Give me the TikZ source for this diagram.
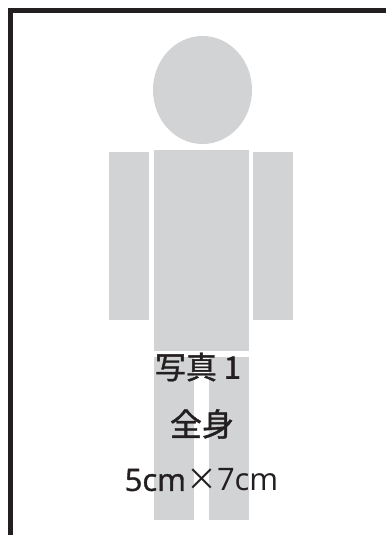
\documentclass[tikz,border=0pt]{standalone}
\usepackage{fontspec}
\setmainfont{Open Sans}
\newfontfamily\cjk{Noto Sans CJK JP}
\newfontfamily\cjkheavy[FakeBold=1.2]{Noto Sans CJK JP}
\newfontfamily\numheavy[FakeBold=1.2]{Open Sans}
\definecolor{bodygray}{RGB}{209,211,212}
\definecolor{framedark}{RGB}{35,31,32}
\begin{document}
\begin{tikzpicture}[x=1pt,y=-1pt]

    \tikzset{
      bodypart/.style={
        fill=bodygray,
        draw=none,
      },
      caption/.style={
        color=framedark,
        anchor=center,
        inner sep=0pt,
      },
    }
    \useasboundingbox (0,0) rectangle (386,535);
	\fill[bodypart] (202.5,90) ellipse (49.5 and 54);
	\fill[bodypart] (154,150) rectangle (249,351);
	\fill[bodypart] (109,152) rectangle (149,320);
	\fill[bodypart] (253,152) rectangle (293,320);
	\fill[bodypart] (154,357) rectangle (194,520);
	\fill[bodypart] (209,357) rectangle (249,520);
	\draw[color=framedark,line width=5pt] (10.5,535)--(10.5,10.5)--(386,10.5);
	\node[caption] (title) at (198,367) {\fontsize{31}{31}\selectfont\cjkheavy 写真 1};
	\node[caption] (kind) at (202,424) {\fontsize{32}{32}\selectfont\cjkheavy 全身};
	\node[caption] (size) at (201.5,480) {\fontsize{31}{31}\selectfont{\numheavy 5cm}{\cjk ×}7cm};

\end{tikzpicture}
\end{document}
